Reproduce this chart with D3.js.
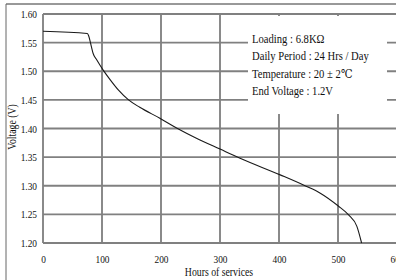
<!DOCTYPE html>
<html>
<head>
<meta charset="utf-8">
<script src="https://cdn.jsdelivr.net/npm/d3@7"></script>
<style>
  html, body { margin: 0; padding: 0; background: #fff; }
  svg { display: block; overflow: hidden; }
  text { font-family: "Liberation Serif", "DejaVu Serif", serif; fill: #111; }
</style>
</head>
<body>
<div id="chart"></div>
<script>
// discharge curve
const hours = [0, 75, 77, 82, 85, 91, 102, 114, 128, 145, 164, 198, 228, 260, 300, 334, 402, 444, 470, 500, 518, 532, 540];
const volts = [1.570, 1.566, 1.563, 1.543, 1.531, 1.520, 1.502, 1.485, 1.467, 1.450, 1.437, 1.418, 1.400, 1.383, 1.364, 1.348, 1.319, 1.300, 1.287, 1.265, 1.249, 1.229, 1.200];

const xTicks = [0, 100, 200, 300, 400, 500, 600];
const yTicks = [1.20, 1.25, 1.30, 1.35, 1.40, 1.45, 1.50, 1.55, 1.60];
const notes = ["Loading : 6.8K\u03A9", "Daily Period : 24 Hrs / Day", "Temperature : 20 \u00B1 2\u2103", "End Voltage : 1.2V"];

(function () {
    const W = 396, H = 280;
    const m = { left: 43, top: 14 };
    const pw = 354, ph = 229;
    const SQ = 0.85; // the source text looks squeezed sideways

    const svg = d3.select("#chart").append("svg").attr("width", W).attr("height", H);

    // outer frame
    svg.append("line").attr("x1", 6).attr("x2", W).attr("y1", 4).attr("y2", 4)
        .attr("stroke", "#333").attr("stroke-width", 1);
    svg.append("line").attr("x1", 6).attr("x2", 6).attr("y1", 4).attr("y2", H)
        .attr("stroke", "#666").attr("stroke-width", 1);

    const x = d3.scaleLinear().domain([0, 600]).range([0, pw]);
    const y = d3.scaleLinear().domain([1.2, 1.6]).range([ph, 0]);

    const g = svg.append("g").attr("transform", `translate(${m.left},${m.top})`);

    // vertical grid (darker, thinner)
    g.append("g").selectAll("line").data(xTicks).join("line")
        .attr("x1", d => x(d)).attr("x2", d => x(d))
        .attr("y1", 0).attr("y2", ph)
        .attr("stroke", "#2a2a2a").attr("stroke-width", 1.1);

    // horizontal grid (grey, thicker)
    g.append("g").selectAll("line").data(yTicks).join("line")
        .attr("x1", 0).attr("x2", pw)
        .attr("y1", d => y(d)).attr("y2", d => y(d))
        .attr("stroke", "#808080").attr("stroke-width", 1.8);

    // curve
    const line = d3.line().x(d => x(d[0])).y(d => y(d[1])).curve(d3.curveMonotoneX);
    g.append("path").datum(hours.map((h, i) => [h, volts[i]]))
        .attr("d", line).attr("fill", "none")
        .attr("stroke", "#1a1a1a").attr("stroke-width", 1.1);

    // axes (labels only)
    const yAxis = g.append("g").call(d3.axisLeft(y).tickValues(yTicks).tickSize(0).tickPadding(6)
        .tickFormat(d3.format(".2f")));
    const xAxis = g.append("g").attr("transform", `translate(0,${ph})`)
        .call(d3.axisBottom(x).tickValues(xTicks).tickSize(0).tickPadding(12));
    [yAxis, xAxis].forEach(a => {
        a.select(".domain").remove();
        a.selectAll("text").attr("font-size", 11).attr("fill", "#111")
            .attr("font-family", "Liberation Serif")
            .attr("transform", `scale(${SQ},1)`);
    });
    xAxis.selectAll("text").attr("x", 0);
    yAxis.selectAll("text").attr("x", -6 / SQ);

    // legend box over the grid
    const lg = svg.append("g");
    lg.append("rect").attr("x", 248).attr("y", 16).attr("width", 139).attr("height", 98).attr("fill", "#fff");
    notes.forEach((t, i) => {
        lg.append("text").attr("transform", `translate(252,${43 + i * 17.3}) scale(${SQ},1)`)
            .attr("font-size", 12.5).text(t);
    });

    // axis titles
    svg.append("text").attr("transform", `translate(219,276) scale(${SQ},1)`)
        .attr("text-anchor", "middle").attr("font-size", 11.5).text("Hours of services");
    svg.append("text").attr("transform", `translate(16,127) rotate(-90) scale(${SQ},1)`)
        .attr("text-anchor", "middle").attr("font-size", 11.5).text("Voltage (V)");
})();
</script>
</body>
</html>
